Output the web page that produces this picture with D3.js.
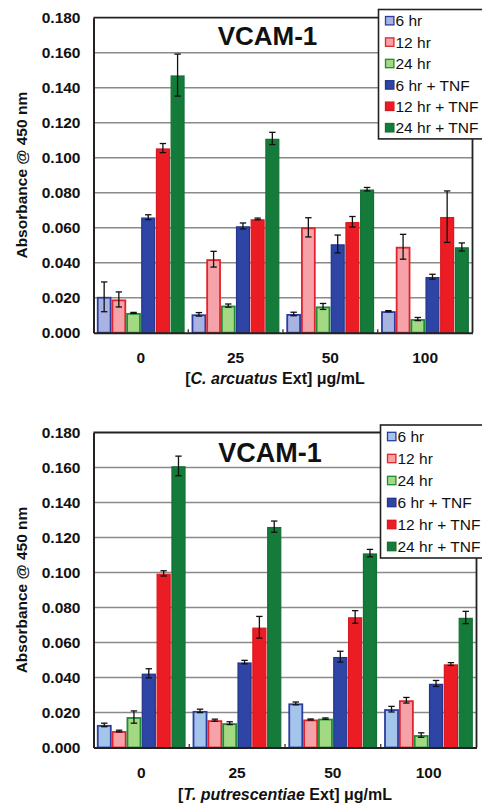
<!DOCTYPE html>
<html>
<head>
<meta charset="utf-8">
<script src="https://cdn.jsdelivr.net/npm/d3@7/dist/d3.min.js"></script>
<style>
  html, body { margin: 0; padding: 0; background: #fff; }
  svg { display: block; font-family: "Liberation Sans", Arial, sans-serif; }
</style>
</head>
<body>
<svg id="chart" width="482" height="811"></svg>
<script>
// ---------------- DATA ----------------
const categories = ["0", "25", "50", "100"];
const seriesNames = ["6 hr", "12 hr", "24 hr", "6 hr + TNF", "12 hr + TNF", "24 hr + TNF"];
const yTicks = [0, 0.02, 0.04, 0.06, 0.08, 0.10, 0.12, 0.14, 0.16, 0.18];
const chartTitle = "VCAM-1";
const yAxisTitle = "Absorbance @ 450 nm";

// Chart A: [C. arcuatus Ext] — values per series across categories
const arc6   = [0.0205, 0.0105, 0.0107, 0.0123];
const arc12  = [0.0190, 0.0420, 0.0602, 0.0491];
const arc24  = [0.0113, 0.0155, 0.0150, 0.0078];
const arc6T  = [0.0660, 0.0610, 0.0507, 0.0320];
const arc12T = [0.1055, 0.0650, 0.0634, 0.0663];
const arc24T = [0.1472, 0.1110, 0.0820, 0.0490];
// Chart A error bars
const arc6E   = [0.0085, 0.0010, 0.0010, 0.0003];
const arc12E  = [0.0043, 0.0045, 0.0055, 0.0071];
const arc24E  = [0.0003, 0.0009, 0.0017, 0.0009];
const arc6TE  = [0.0014, 0.0017, 0.0051, 0.0014];
const arc12TE = [0.0026, 0.0005, 0.0030, 0.0147];
const arc24TE = [0.0120, 0.0035, 0.0010, 0.0023];

// Chart B: [T. putrescentiae Ext]
const put6   = [0.0129, 0.0209, 0.0252, 0.0219];
const put12  = [0.0094, 0.0156, 0.0160, 0.0270];
const put24  = [0.0174, 0.0139, 0.0165, 0.0071];
const put6T  = [0.0424, 0.0488, 0.0519, 0.0366];
const put12T = [0.0995, 0.0687, 0.0746, 0.0477];
const put24T = [0.1609, 0.1262, 0.1111, 0.0743];
// Chart B error bars
const put6E   = [0.0010, 0.0010, 0.0008, 0.0016];
const put12E  = [0.0005, 0.0006, 0.0003, 0.0016];
const put24E  = [0.0035, 0.0008, 0.0004, 0.0013];
const put6TE  = [0.0026, 0.0010, 0.0031, 0.0017];
const put12TE = [0.0015, 0.0062, 0.0036, 0.0008];
const put24TE = [0.0056, 0.0032, 0.0021, 0.0035];

// ---------------- STYLE ----------------
const fillsA = ["#a8b3e2", "#f5a3a9", "#a3d982", "#2e45a5", "#ec1c24", "#157b3a"];
const fillsB = ["#a3c5ec", "#f5a3a9", "#a3d982", "#2e45a5", "#ec1c24", "#157b3a"];
const strokes = ["#2c3d9c", "#e2232b", "#1f8b3a", "#23348a", "#d81820", "#127034"];

const svg = d3.select("#chart");
const FONT = '"Liberation Sans", Arial, sans-serif';

function drawChart(cfg) {
  const { left, right, top, bottom, vals, errs, fills, xTitleItalic, titleX, titleY, titleSize,
          legendX, legendY, legendStep, xTitleX, xTitleY } = cfg;
  const g = svg.append("g");

  const y = d3.scaleLinear().domain([0, 0.18]).range([bottom, top]);
  const x0 = d3.scaleBand().domain(categories).range([left, right])
    .paddingInner(0.07).paddingOuter(0.035);
  const x1 = d3.scaleBand().domain(seriesNames).range([0, x0.bandwidth()]);

  // gridlines
  g.append("g").selectAll("line").data(yTicks.filter(t => t > 0 && t < 0.18))
    .join("line")
    .attr("x1", left).attr("x2", right)
    .attr("y1", d => y(d)).attr("y2", d => y(d))
    .attr("stroke", "#8a8a8a").attr("stroke-width", 1.4);

  // bars
  const groups = g.append("g").selectAll("g").data(categories).join("g")
    .attr("transform", c => `translate(${x0(c)},0)`);
  seriesNames.forEach((s, si) => {
    groups.append("rect")
      .attr("x", (c) => x1(s) + 0.9)
      .attr("width", x1.bandwidth() - 1.8)
      .attr("y", (c, ci) => y(vals[si][ci]) + 0.9)
      .attr("height", (c, ci) => Math.max(0, y(0) - y(vals[si][ci]) - 0.9))
      .attr("fill", fills[si])
      .attr("stroke", strokes[si])
      .attr("stroke-width", si < 3 ? 1.8 : 1.2);
  });

  // error bars
  seriesNames.forEach((s, si) => {
    const cx = c => x0(c) + x1(s) + x1.bandwidth() / 2;
    categories.forEach((c, ci) => {
      const v = vals[si][ci], e = errs[si][ci];
      const yt = y(v + e), yb = y(v - e);
      const eg = g.append("g").attr("stroke", "#111").attr("stroke-width", 1.3);
      eg.append("line").attr("x1", cx(c)).attr("x2", cx(c)).attr("y1", yt).attr("y2", yb);
      eg.append("line").attr("x1", cx(c) - 3.2).attr("x2", cx(c) + 3.2).attr("y1", yt).attr("y2", yt);
      eg.append("line").attr("x1", cx(c) - 3.2).attr("x2", cx(c) + 3.2).attr("y1", yb).attr("y2", yb);
    });
  });

  // plot frame
  g.append("line").attr("x1", left).attr("x2", right).attr("y1", y(0.18)).attr("y2", y(0.18))
    .attr("stroke", "#222").attr("stroke-width", 1.8);
  g.append("line").attr("x1", right).attr("x2", right).attr("y1", top).attr("y2", bottom)
    .attr("stroke", "#222").attr("stroke-width", 1.8);

  // y axis
  const yAxis = d3.axisLeft(y).tickValues(yTicks).tickFormat(d3.format(".3f"))
    .tickSize(0).tickPadding(13);
  const ya = g.append("g").attr("transform", `translate(${left},0)`).call(yAxis);
  ya.select(".domain").attr("stroke", "#222").attr("stroke-width", 2);
  ya.selectAll("text").attr("font-family", FONT).attr("font-size", 15.5)
    .attr("font-weight", "bold").attr("fill", "#111");

  // x axis
  const xAxis = d3.axisBottom(x0).tickSize(0).tickPadding(19.5);
  const xa = g.append("g").attr("transform", `translate(0,${bottom})`).call(xAxis);
  xa.select(".domain").attr("stroke", "#222").attr("stroke-width", 2);
  xa.selectAll("text").attr("font-family", FONT).attr("font-size", 15.5)
    .attr("font-weight", "bold").attr("fill", "#111");
  // small category separator ticks
  categories.slice(1).forEach(c => {
    const bx = x0(c) - x0.step() * x0.paddingInner() / 2;
    g.append("line").attr("x1", bx).attr("x2", bx).attr("y1", bottom).attr("y2", bottom - 3.5)
      .attr("stroke", "#222").attr("stroke-width", 1.2);
  });

  // y title
  g.append("text")
    .attr("transform", `translate(27,${(top + bottom) / 2}) rotate(-90)`)
    .attr("text-anchor", "middle")
    .attr("font-family", FONT).attr("font-size", 15.5).attr("font-weight", "bold").attr("fill", "#111")
    .text(yAxisTitle);

  // x title
  const xt = g.append("text").attr("x", xTitleX).attr("y", xTitleY).attr("text-anchor", "middle")
    .attr("font-family", FONT).attr("font-size", 16).attr("font-weight", "bold").attr("fill", "#111");
  xt.append("tspan").text("[");
  xt.append("tspan").attr("font-style", "italic").text(xTitleItalic);
  xt.append("tspan").text(" Ext] \u03bcg/mL");

  // chart title
  g.append("text").attr("x", titleX).attr("y", titleY).attr("text-anchor", "middle")
    .attr("font-family", FONT).attr("font-size", titleSize).attr("font-weight", "bold").attr("fill", "#111")
    .text(chartTitle);

  // legend
  const lg = g.append("g");
  lg.append("rect").attr("x", legendX).attr("y", legendY)
    .attr("width", 140).attr("height", legendStep * 6 + 1)
    .attr("fill", "#fff").attr("stroke", "#222").attr("stroke-width", 1.6);
  seriesNames.forEach((s, si) => {
    const cy = legendY + legendStep * (si + 0.5) + 0.5;
    lg.append("rect").attr("x", legendX + 7).attr("y", cy - 4.2).attr("width", 8.4).attr("height", 8.4)
      .attr("fill", fills[si]).attr("stroke", strokes[si]).attr("stroke-width", 1.3);
    lg.append("text").attr("x", legendX + 17).attr("y", cy + 5.6)
      .attr("font-family", FONT).attr("font-size", 15.5).attr("fill", "#111").text(s);
  });
}

drawChart({
  left: 93.5, right: 472.5, top: 17.7, bottom: 332.7,
  vals: [arc6, arc12, arc24, arc6T, arc12T, arc24T],
  errs: [arc6E, arc12E, arc24E, arc6TE, arc12TE, arc24TE],
  fills: fillsA,
  xTitleItalic: "C. arcuatus",
  xTitleX: 275, xTitleY: 383.5,
  titleX: 267.5, titleY: 45, titleSize: 26,
  legendX: 378.5, legendY: 9.5, legendStep: 21.4
});

drawChart({
  left: 93.5, right: 476.5, top: 432.5, bottom: 747.5,
  vals: [put6, put12, put24, put6T, put12T, put24T],
  errs: [put6E, put12E, put24E, put6TE, put12TE, put24TE],
  fills: fillsB,
  xTitleItalic: "T. putrescentiae",
  xTitleX: 285, xTitleY: 800,
  titleX: 270, titleY: 461.5, titleSize: 27,
  legendX: 380.5, legendY: 425, legendStep: 22
});
</script>
</body>
</html>
